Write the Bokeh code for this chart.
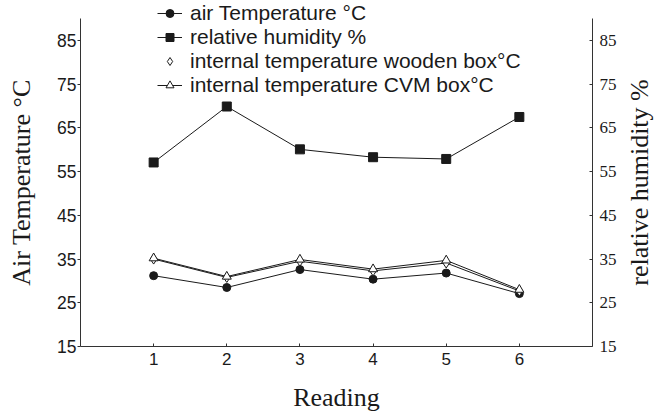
import math
from bokeh.plotting import figure
from bokeh.models import Range1d, LinearAxis, FixedTicker, Legend, LegendItem, Label
from bokeh.embed import file_html
from bokeh.resources import INLINE

readings = [1, 2, 3, 4, 5, 6]
air_temp = [31.2, 28.5, 32.6, 30.4, 31.8, 27.1]
rel_humidity = [57.1, 69.9, 60.1, 58.3, 57.9, 67.5]
wooden_box = [35.0, 30.8, 34.5, 32.3, 34.1, 27.7]
cvm_box = [35.2, 31.0, 34.9, 32.7, 34.7, 28.0]
y_ticks = [15, 25, 35, 45, 55, 65, 75, 85]
x_ticks = [1, 2, 3, 4, 5, 6]
y_bounds = (15, 90)

INK = "#1a1a1a"
SANS = "Liberation Sans"
SERIF = "Liberation Serif"

# frame spans to the top of the canvas so the legend is not clipped;
# the axis lines themselves stop at 90 via bounds
Y_TOP = 94.15
p = figure(width=655, height=413, output_backend="svg", toolbar_location=None,
           x_range=Range1d(0, 7), y_range=Range1d(15, Y_TOP),
           min_border_left=80, min_border_right=63, min_border_top=0,
           min_border_bottom=67)
p.outline_line_color = None
p.grid.visible = False
p.background_fill_color = "white"
p.border_fill_color = "white"
p.extra_y_ranges = {"rh": Range1d(15, Y_TOP)}

# axes
xa = p.xaxis[0]
xa.ticker = FixedTicker(ticks=x_ticks)
ya = p.yaxis[0]
ya.ticker = FixedTicker(ticks=y_ticks)
ya.bounds = y_bounds
ra = LinearAxis(y_range_name="rh", ticker=FixedTicker(ticks=y_ticks), bounds=y_bounds)
p.add_layout(ra, "right")

for ax in (xa, ya, ra):
    ax.axis_line_color = "#333333"
    ax.major_tick_line_color = "#333333"
    ax.minor_tick_line_color = None
    ax.major_label_text_color = INK

xa.major_tick_in = 3
xa.major_tick_out = 0
xa.major_label_text_font = SANS
xa.major_label_text_font_size = "17px"
xa.major_label_standoff = 6

ya.major_tick_in = 0
ya.major_tick_out = 3
ya.major_label_text_font = SANS
ya.major_label_text_font_size = "17.5px"
ya.major_label_standoff = 1

ra.major_tick_in = 3
ra.major_tick_out = 0
ra.major_label_text_font = SERIF
ra.major_label_text_font_size = "17px"
ra.major_label_standoff = 7

# axis titles, placed in the side panels (positions relative to each panel)
title_style = dict(x_units="screen", y_units="screen", text_font=SERIF,
                   text_font_size="26px", text_color=INK,
                   text_align="center", text_baseline="alphabetic")
p.add_layout(Label(x=-4, y=164, angle=math.pi / 2, text="Air Temperature °C",
                   **title_style), "left")
p.add_layout(Label(x=20, y=164, angle=math.pi / 2, text="relative humidity %",
                   **title_style), "right")
p.add_layout(Label(x=256, y=-1, text="Reading", **title_style), "below")

# series lines
l_air = p.line(readings, air_temp, line_color=INK, line_width=1)
l_rh = p.line(readings, rel_humidity, line_color=INK, line_width=1, y_range_name="rh")
l_wood = p.line(readings, wooden_box, line_color=INK, line_width=1)
l_cvm = p.line(readings, cvm_box, line_color=INK, line_width=1)

# markers
s_air = p.scatter(readings, air_temp, marker="circle", size=8,
                  fill_color=INK, line_color=INK)
s_rh = p.scatter(readings, rel_humidity, marker="square", size=9,
                 fill_color=INK, line_color=INK, y_range_name="rh")
s_wood = p.scatter(readings, wooden_box, marker="diamond", size=10,
                   fill_color="white", line_color=INK, line_width=1)
s_cvm = p.scatter(readings, cvm_box, marker="triangle", size=9,
                  fill_color="white", line_color=INK, line_width=1)

legend = Legend(items=[
    LegendItem(label="air Temperature °C", renderers=[l_air, s_air]),
    LegendItem(label="relative humidity %", renderers=[l_rh, s_rh]),
    LegendItem(label="internal temperature wooden box°C", renderers=[s_wood]),
    LegendItem(label="internal temperature CVM box°C", renderers=[l_cvm, s_cvm]),
], location=(77, 249), padding=0, margin=0, spacing=-4,
    glyph_width=25, glyph_height=20, label_height=20, label_standoff=8,
    border_line_color=None, background_fill_alpha=0,
    label_text_font=SANS, label_text_font_size="21px", label_text_color=INK)
p.add_layout(legend)

open("out.html", "w").write(file_html(p, INLINE))
